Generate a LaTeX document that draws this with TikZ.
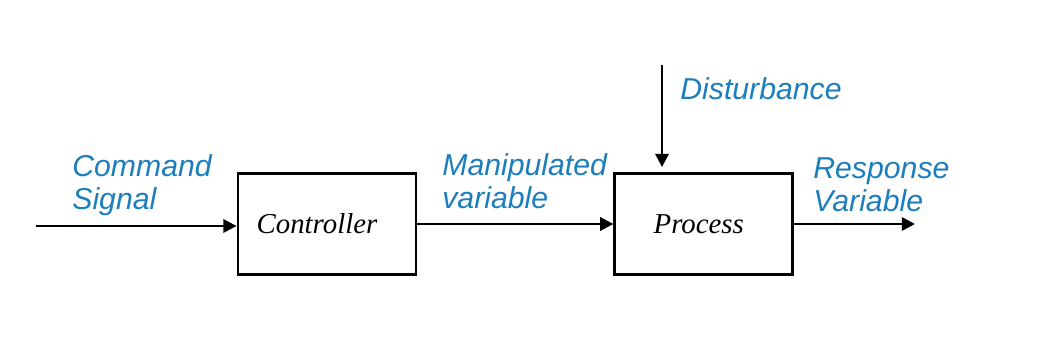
\documentclass[tikz,border=0pt]{standalone}
\usepackage{fontspec}
\usepackage{tikz}
\usetikzlibrary{arrows.meta, positioning}

\newfontfamily\labelfont{Liberation Sans}
\newfontfamily\blockfont{Liberation Serif}
\definecolor{sigblue}{RGB}{28,126,188}

\begin{document}
\begin{tikzpicture}[
  block/.style={rectangle, draw=black, line width=1.6pt,
                minimum width=3.56cm, minimum height=2.02cm,
                font=\blockfont\itshape\fontsize{16.4}{18}\selectfont},
  sig/.style={anchor=west, inner sep=0pt, align=left, text=sigblue,
              font=\labelfont\itshape\fontsize{17.2}{19}\selectfont},
  arrow/.style={-{Triangle[length=7.5pt, width=7.5pt]}, line width=1.4pt},
]
\useasboundingbox (0,0) rectangle (20.96,6.82);

% Blocks
\node[block] (ctrl) at (6.54,2.34) {Controller\hspace*{0.4cm}};
\node[block, right=3.92cm of ctrl] (proc) {Process\hspace*{0.2cm}};

% Free ends
\coordinate (in) at (0.72,2.30);
\coordinate (out) at (18.30,2.34);
\coordinate (dist) at (13.24,5.52);

% Arrows
\draw[arrow] (in) -- (in -| ctrl.west);
\draw[arrow] (ctrl) -- (proc);
\draw[arrow] (proc) -- (out);
\draw[arrow, shorten >=0.1cm] (dist) -- (dist |- proc.north);

% Signal labels
\node[sig] (lblcmd) at (1.44,3.12) {Command\\Signal};
\node[sig] (lblman) at (8.84,3.20) {Manipulated\\variable};
\node[sig] (lbldist) at (13.60,5.04) {Disturbance};
\node[sig] (lblresp) at (16.26,3.12) {Response\\Variable};
\end{tikzpicture}
\end{document}
